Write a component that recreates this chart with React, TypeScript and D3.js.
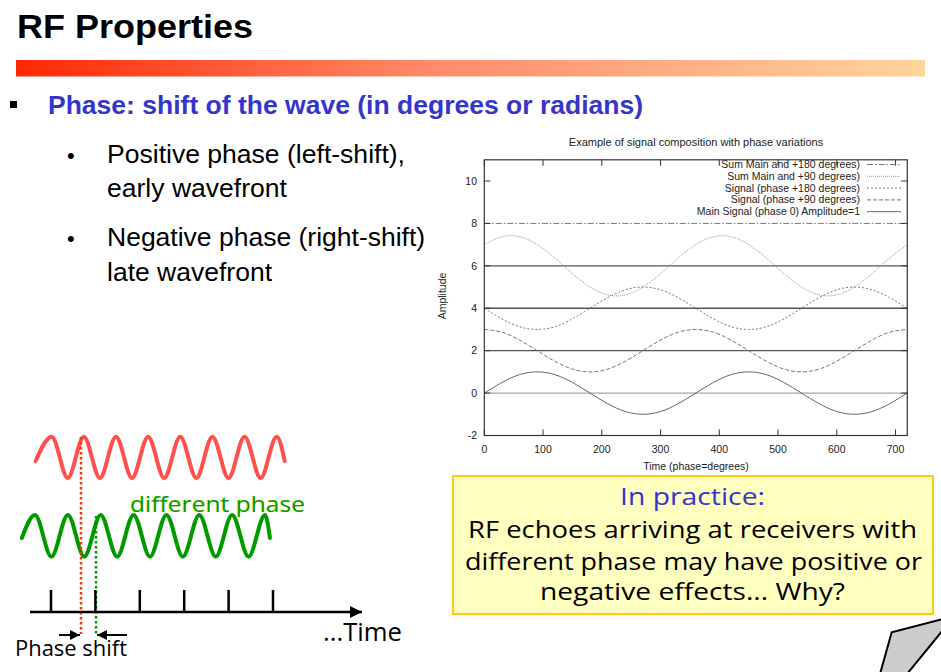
import React from 'react';
import * as d3 from 'd3';

// ---------- chart data ----------
const degrees = [0, 30, 60, 90, 120, 150, 180, 210, 240, 270, 300, 330, 360, 390, 420, 450, 480, 510, 540, 570, 600, 630, 660, 690, 720];
const mainSignal = [0, 0.5, 0.87, 1, 0.87, 0.5, 0, -0.5, -0.87, -1, -0.87, -0.5, 0, 0.5, 0.87, 1, 0.87, 0.5, 0, -0.5, -0.87, -1, -0.87, -0.5, 0];
const signalPhase90 = [3, 2.87, 2.5, 2, 1.5, 1.13, 1, 1.13, 1.5, 2, 2.5, 2.87, 3, 2.87, 2.5, 2, 1.5, 1.13, 1, 1.13, 1.5, 2, 2.5, 2.87, 3];
const signalPhase180 = [4, 3.5, 3.13, 3, 3.13, 3.5, 4, 4.5, 4.87, 5, 4.87, 4.5, 4, 3.5, 3.13, 3, 3.13, 3.5, 4, 4.5, 4.87, 5, 4.87, 4.5, 4];
const sumMain90 = [7, 7.37, 7.37, 7, 6.37, 5.63, 5, 4.63, 4.63, 5, 5.63, 6.37, 7, 7.37, 7.37, 7, 6.37, 5.63, 5, 4.63, 4.63, 5, 5.63, 6.37, 7];
const sumMain180 = [8, 8, 8, 8, 8, 8, 8, 8, 8, 8, 8, 8, 8, 8, 8, 8, 8, 8, 8, 8, 8, 8, 8, 8, 8];
const baselines = [0, 2, 4, 6];
const xTicks = [0, 100, 200, 300, 400, 500, 600, 700];
const yTicks = [-2, 0, 2, 4, 6, 8, 10];
const legendLabels = [
  'Sum Main and +180 degrees)',
  'Sum Main and +90 degrees)',
  'Signal (phase +180 degrees)',
  'Signal (phase +90 degrees)',
  'Main Signal (phase 0) Amplitude=1',
];
const chartTitle = 'Example of signal composition with phase variations';
const xLabel = 'Time (phase=degrees)';
const yLabel = 'Amplitude';

// ---------- schematic waves (half-period index, normalized value) ----------
const redWaveU = [-1, 0, 1, 2, 3, 4, 5, 6, 7, 8, 9, 10, 11, 12, 13, 14, 14.5];
const redWaveV = [-0.18, 1, -1, 1, -1, 1, -1, 1, -1, 1, -1, 1, -1, 1, -1, 1, -0.18];
const greenWaveU = [-0.8, 0, 1, 2, 3, 4, 5, 6, 7, 8, 9, 10, 11, 12, 13, 14, 14.3];
const greenWaveV = [-0.1, 1, -1, 1, -1, 1, -1, 1, -1, 1, -1, 1, -1, 1, -1, 1, -0.1];
const timeTicks = [0, 1, 2, 3, 4, 5];

const SANS = "'Liberation Sans', Arial, Helvetica, sans-serif";
const HAND = "'Open Sans', 'Comic Sans MS', sans-serif";

export default function App() {
  const W = 941, H = 672;
  const x = d3.scaleLinear().domain([0, 720]).range([484.3, 907.3]);
  const y = d3.scaleLinear().domain([-2, 11]).range([435.5, 159.8]);
  const pathOf = (vals: number[]) =>
    d3.line<number>().x((_, i) => x(degrees[i])).y((v) => y(v)).curve(d3.curveNatural)(vals) || '';

  const series = [
    { vals: sumMain180, stroke: '#777', dash: '6,2,1.5,2', w: 1 },
    { vals: sumMain90, stroke: '#9a9a9a', dash: '1,1', w: 1 },
    { vals: signalPhase180, stroke: '#777', dash: '2,2', w: 1 },
    { vals: signalPhase90, stroke: '#777', dash: '4,2', w: 1 },
    { vals: mainSignal, stroke: '#666', dash: '', w: 1 },
  ];

  const [x0, x1] = x.range();
  const yb = y(-2), yt = y(11);

  // schematic scales
  const redX = d3.scaleLinear().domain([0, 14]).range([51.7, 276.7]);
  const redY = d3.scaleLinear().domain([-1, 1]).range([478, 436.7]);
  const greenX = d3.scaleLinear().domain([0, 14]).range([35, 265]);
  const greenY = d3.scaleLinear().domain([-1, 1]).range([556.7, 515]);
  const redPath = d3.line<number>().x((_, i) => redX(redWaveU[i])).y((v) => redY(v)).curve(d3.curveMonotoneX)(redWaveV) || '';
  const greenPath = d3.line<number>().x((_, i) => greenX(greenWaveU[i])).y((v) => greenY(v)).curve(d3.curveMonotoneX)(greenWaveV) || '';
  const tickX = d3.scaleLinear().domain([0, 5]).range([51, 273]);

  return (
    <svg width={W} height={H} style={{ position: 'absolute', left: 0, top: 0, background: '#fff' }}>
      <defs>
        <linearGradient id="bar" x1="0" x2="1" y1="0" y2="0">
          <stop offset="0" stopColor="#FF2800" />
          <stop offset="0.06" stopColor="#FF3512" />
          <stop offset="0.45" stopColor="#FF8A68" />
          <stop offset="1" stopColor="#FFD49C" />
        </linearGradient>
        <marker id="arrR" viewBox="0 0 10 10" refX="10" refY="5" markerWidth="5" markerHeight="5" orient="auto">
          <path d="M0,0 L10,5 L0,10 z" fill="#000" />
        </marker>
      </defs>

      {/* Slide title */}
      <text x={17} y={38} fontFamily={SANS} fontWeight="bold" fontSize={34} textLength={236} lengthAdjust="spacingAndGlyphs" fill="#000">RF Properties</text>
      <rect x={16} y={60} width={909} height={16.5} fill="url(#bar)" />

      {/* Bullets */}
      <rect x={10} y={101} width={7} height={7} fill="#000" />
      <text x={48} y={114} fontFamily={SANS} fontWeight="bold" fontSize={26} textLength={595} lengthAdjust="spacingAndGlyphs" fill="#3535CC">Phase: shift of the wave (in degrees or radians)</text>
      <text x={67} y={163} fontFamily={SANS} fontSize={22} fill="#000">•</text>
      <text x={107} y={163} fontFamily={SANS} fontSize={26.5} textLength={298} lengthAdjust="spacingAndGlyphs" fill="#000">Positive phase (left-shift),</text>
      <text x={107} y={197} fontFamily={SANS} fontSize={26.5} textLength={180} lengthAdjust="spacingAndGlyphs" fill="#000">early wavefront</text>
      <text x={67} y={246} fontFamily={SANS} fontSize={22} fill="#000">•</text>
      <text x={107} y={246} fontFamily={SANS} fontSize={26.5} fill="#000">Negative phase (right-shift),</text>
      <text x={107} y={281} fontFamily={SANS} fontSize={26.5} textLength={165} lengthAdjust="spacingAndGlyphs" fill="#000">late wavefront</text>

      {/* Chart image area */}
      <rect x={427} y={128} width={514} height={348} fill="#fff" />
      <text x={696} y={145.5} textAnchor="middle" fontFamily={SANS} fontSize={11} fill="#222">{chartTitle}</text>

      {baselines.map((b) => (
        <line key={'b' + b} x1={x0} x2={x1} y1={y(b)} y2={y(b)} stroke={b === 0 ? '#a8a8a8' : '#555'} strokeWidth={1.3} />
      ))}
      {series.map((s, i) => (
        <path key={'s' + i} d={pathOf(s.vals)} fill="none" stroke={s.stroke} strokeWidth={s.w} strokeDasharray={s.dash || undefined} />
      ))}

      {/* frame */}
      <rect x={x0} y={yt} width={x1 - x0} height={yb - yt} fill="none" stroke="#333" strokeWidth={1.2} />
      {xTicks.map((t) => (
        <g key={'xt' + t}>
          <line x1={x(t)} x2={x(t)} y1={yb} y2={yb - 6} stroke="#333" />
          <line x1={x(t)} x2={x(t)} y1={yt} y2={yt + 6} stroke="#333" />
          <text x={x(t)} y={452.5} textAnchor="middle" fontFamily={SANS} fontSize={10.5} fill="#222">{t}</text>
        </g>
      ))}
      {yTicks.map((t) => (
        <g key={'yt' + t}>
          <line x1={x0} x2={x0 + 6} y1={y(t)} y2={y(t)} stroke="#333" />
          <line x1={x1} x2={x1 - 6} y1={y(t)} y2={y(t)} stroke="#333" />
          <text x={477} y={y(t) + 3.8} textAnchor="end" fontFamily={SANS} fontSize={10.5} fill="#222">{t}</text>
        </g>
      ))}
      <text x={696} y={470} textAnchor="middle" fontFamily={SANS} fontSize={10.5} fill="#222">{xLabel}</text>
      <text transform={`translate(446,296) rotate(-90)`} textAnchor="middle" fontFamily={SANS} fontSize={10.5} fill="#222">{yLabel}</text>

      {/* legend */}
      {legendLabels.map((l, i) => {
        const ly = 168 + i * 11.8;
        const s = series[i];
        return (
          <g key={'lg' + i}>
            <text x={860} y={ly} textAnchor="end" fontFamily={SANS} fontSize={10.5} fill="#222">{l}</text>
            <line x1={867} x2={901} y1={ly - 3.5} y2={ly - 3.5} stroke={s.stroke} strokeWidth={1} strokeDasharray={s.dash || undefined} />
          </g>
        );
      })}

      {/* Schematic waves */}
      <path d={redPath} fill="none" stroke="#FF5050" strokeWidth={4} strokeLinecap="round" />
      <path d={greenPath} fill="none" stroke="#009900" strokeWidth={4} strokeLinecap="round" />
      <text x={129.3} y={512.3} fontFamily={HAND} fontSize={22} textLength={175} lengthAdjust="spacingAndGlyphs" fill="#F0F060">different phase</text>
      <text x={130} y={512} fontFamily={HAND} fontSize={22} textLength={175} lengthAdjust="spacingAndGlyphs" fill="#009900">different phase</text>
      <line x1={81} x2={81} y1={437} y2={634} stroke="#FF3300" strokeWidth={2.5} strokeDasharray="2.5,2.5" />
      <line x1={96} x2={96} y1={516} y2={634} stroke="#009900" strokeWidth={2.5} strokeDasharray="2.5,2.5" />

      {/* time axis */}
      <line x1={30} x2={362} y1={612} y2={612} stroke="#000" strokeWidth={2.5} markerEnd="url(#arrR)" />
      {timeTicks.map((t) => (
        <line key={'tt' + t} x1={tickX(t)} x2={tickX(t)} y1={590} y2={612} stroke="#000" strokeWidth={2.5} />
      ))}
      <line x1={59} x2={80} y1={635} y2={635} stroke="#000" strokeWidth={2} markerEnd="url(#arrR)" />
      <line x1={127} x2={97} y1={635} y2={635} stroke="#000" strokeWidth={2} markerEnd="url(#arrR)" />
      <text x={15} y={656} fontFamily={HAND} fontSize={21} textLength={112} lengthAdjust="spacingAndGlyphs" fill="#000">Phase shift</text>
      <text x={323} y={641} fontFamily={HAND} fontSize={26} textLength={79} lengthAdjust="spacingAndGlyphs" fill="#000">...Time</text>

      {/* Yellow note box */}
      <rect x={453} y={476} width={480} height={138} fill="#FFFFC0" stroke="#FFCC11" strokeWidth={2} />
      <text x={692.5} y={505} textAnchor="middle" fontFamily={HAND} fontSize={24} textLength={145} lengthAdjust="spacingAndGlyphs" fill="#3535CC">In practice:</text>
      <text x={692.5} y={538} textAnchor="middle" fontFamily={HAND} fontSize={24} textLength={449} lengthAdjust="spacingAndGlyphs" fill="#000">RF echoes arriving at receivers with</text>
      <text x={693.5} y={570} textAnchor="middle" fontFamily={HAND} fontSize={24} textLength={457} lengthAdjust="spacingAndGlyphs" fill="#000">different phase may have positive or</text>
      <text x={692.5} y={600} textAnchor="middle" fontFamily={HAND} fontSize={24} textLength={305} lengthAdjust="spacingAndGlyphs" fill="#000">negative effects... Why?</text>

      {/* page curl corner */}
      <polygon points="880,674 891.7,632.3 943,619 943,630 907,674" fill="#CCCCCC" stroke="#000" strokeWidth={2} />
      <text x={903} y={687} fontFamily={SANS} fontWeight="bold" fontSize={22} fill="#2222CC">9</text>
    </svg>
  );
}
